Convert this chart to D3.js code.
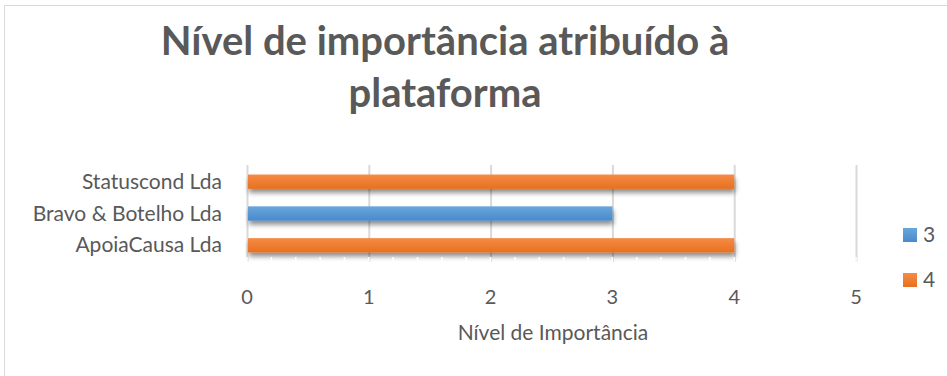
<!DOCTYPE html>
<html>
<head>
<meta charset="utf-8">
<script src="https://cdn.jsdelivr.net/npm/d3@7"></script>
<style>
  body { margin: 0; background: #fff; }
  text { font-family: Lato, "Open Sans", sans-serif; fill: #595959; }
</style>
</head>
<body>
<svg id="chart"></svg>
<script>
// chart data
const categories = ["Statuscond Lda", "Bravo & Botelho Lda", "ApoiaCausa Lda"];
const values = [4, 3, 4];
const seriesOf = ["4", "3", "4"];
const legendItems = ["3", "4"];
const xTicks = [0, 1, 2, 3, 4, 5];
const titleLines = ["Nível de importância atribuído à", "plataforma"];
const xTitle = "Nível de Importância";

const colors = { "3": ["#6aa6dc", "#4a8acb"], "4": ["#f58b45", "#e8701f"] };

const W = 947, H = 376;
const margin = { top: 165, right: 91, bottom: 114, left: 247 };
const width = W - margin.left - margin.right;
const height = H - margin.top - margin.bottom;

const svg = d3.select("#chart").attr("width", W).attr("height", H);

// gradients + shadow
const defs = svg.append("defs");
Object.keys(colors).forEach(k => {
  const g = defs.append("linearGradient").attr("id", "grad" + k)
    .attr("x1", 0).attr("y1", 0).attr("x2", 0).attr("y2", 1);
  g.append("stop").attr("offset", "0%").attr("stop-color", colors[k][0]);
  g.append("stop").attr("offset", "100%").attr("stop-color", colors[k][1]);
});
const f = defs.append("filter").attr("id", "shadow")
  .attr("x", "-5%").attr("y", "-50%").attr("width", "110%").attr("height", "220%");
f.append("feGaussianBlur").attr("in", "SourceAlpha").attr("stdDeviation", 2.5).attr("result", "b");
f.append("feOffset").attr("in", "b").attr("dx", 1).attr("dy", 4).attr("result", "o");
f.append("feComponentTransfer").attr("in", "o").attr("result", "s")
  .append("feFuncA").attr("type", "linear").attr("slope", 0.45);
const fm = f.append("feMerge");
fm.append("feMergeNode").attr("in", "s");
fm.append("feMergeNode").attr("in", "SourceGraphic");

// chart border
svg.append("rect")
  .attr("x", 4.5).attr("y", 5.5).attr("width", 960).attr("height", 380)
  .attr("fill", "none").attr("stroke", "#d9d9d9");

// title
svg.append("g").selectAll("text")
  .data(titleLines)
  .enter()
  .append("text")
    .attr("x", 445)
    .attr("y", (d, i) => 55 + i * 52)
    .attr("text-anchor", "middle")
    .style("font-size", "40px")
    .style("font-weight", "bold")
    .text(d => d);

const g = svg.append("g")
  .attr("transform", `translate(${margin.left}, ${margin.top})`);

const x = d3.scaleLinear().domain([0, 5]).range([0, 609]);
const y = d3.scaleBand().domain(categories).range([0, height]).paddingInner(0.55).paddingOuter(0.3);

// grids
const xAxisGrid = d3.axisBottom(x).tickValues(xTicks).tickSize(-height).tickFormat("");
g.append("g")
  .attr("class", "x axis-grid")
  .attr("transform", `translate(0, ${height})`)
  .call(xAxisGrid)
  .call(s => s.select(".domain").remove())
  .call(s => s.selectAll("line").attr("stroke", "#d9d9d9").attr("stroke-width", 2));

// bars
g.selectAll(".bar")
  .data(categories)
  .enter()
  .append("rect")
    .attr("class", "bar")
    .attr("x", x(0) + 1)
    .attr("y", d => y(d))
    .attr("width", (d, i) => x(values[i]) - x(0) - 1)
    .attr("height", y.bandwidth())
    .attr("fill", (d, i) => `url(#grad${seriesOf[i]})`)
    .attr("filter", "url(#shadow)");

// minor ticks (white, over the shadow)
const minor = d3.range(0, 5.01, 0.2);
g.append("g").selectAll("line")
  .data(minor)
  .enter()
  .append("line")
    .attr("x1", d => x(d)).attr("x2", d => x(d))
    .attr("y1", height - 5).attr("y2", height + 2)
    .attr("stroke", "#fff").attr("stroke-width", 1.5);

// x tick labels
g.append("g").selectAll("text")
  .data(xTicks)
  .enter()
  .append("text")
    .attr("x", d => x(d))
    .attr("y", height + 42)
    .attr("text-anchor", "middle")
    .style("font-size", "20px")
    .text(d => d);

// category labels
g.append("g").selectAll("text")
  .data(categories)
  .enter()
  .append("text")
    .attr("x", -25)
    .attr("y", d => y(d) + y.bandwidth() / 2 + 7)
    .attr("text-anchor", "end")
    .style("font-size", "21px")
    .text(d => d);

// x title
svg.append("text")
  .attr("x", 553)
  .attr("y", 340)
  .attr("text-anchor", "middle")
  .style("font-size", "21px")
  .text(xTitle);

// legend
const legend = svg.append("g").selectAll("g")
  .data(legendItems)
  .enter()
  .append("g")
    .attr("transform", (d, i) => `translate(903, ${228 + i * 45})`);
legend.append("rect")
  .attr("width", 14).attr("height", 14)
  .attr("fill", d => `url(#grad${d})`);
legend.append("text")
  .attr("x", 20).attr("y", 14)
  .style("font-size", "21px")
  .text(d => d);
</script>
</body>
</html>
